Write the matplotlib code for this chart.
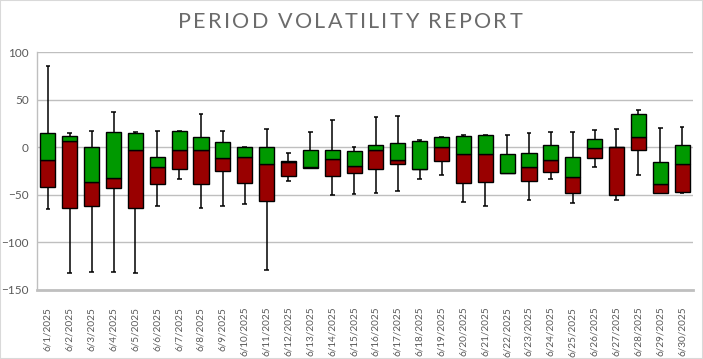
import matplotlib
matplotlib.use("Agg")
import matplotlib.pyplot as plt
import numpy as np
from matplotlib.patches import Rectangle

# values
dates = [f"6/{d}/2025" for d in range(1, 31)]
whisker_high = [85.4, 15.6, 17.7, 37.5, 16.7, 17.7, 17.7, 35.4, 17.7, 0.0,
                19.8, -6.2, 16.7, 29.2, 0.0, 32.3, 33.3, 7.3, 10.4, 12.5,
                12.5, 12.5, 14.6, 16.7, 16.7, 18.7, 19.8, 39.6, 20.8, 21.9]
box_top = [14.6, 11.5, 0.0, 16.7, 15.6, -10.4, 17.7, 10.4, 5.2, 0.0,
           0.0, -14.6, -3.1, -3.1, -4.2, 2.1, 4.2, 6.2, 10.4, 11.5,
           12.5, -7.3, -6.2, 2.1, -10.4, 8.3, 0.0, 35.4, -15.6, 2.1]
box_mid = [-13.5, 6.3, -36.1, -32.3, -3.1, -20.8, -3.1, -3.1, -11.5, -10.4,
           -17.7, -15.6, -20.8, -12.5, -19.8, -3.1, -13.5, -22.9, 0.0, -7.3,
           -7.3, -27.1, -20.8, -13.5, -31.2, -1.0, 0.0, 10.4, -38.5, -17.7]
box_bottom = [-41.7, -63.5, -61.5, -42.7, -63.5, -38.5, -22.9, -38.5, -25.0, -37.5,
              -56.6, -30.2, -21.9, -30.2, -27.1, -22.9, -17.7, -22.9, -14.6, -37.5,
              -36.5, -27.1, -35.4, -26.0, -47.9, -11.5, -50.0, -3.1, -47.9, -46.9]
whisker_low = [-64.6, -132.3, -131.3, -131.3, -132.3, -61.5, -33.3, -63.5, -61.5, -59.4,
               -129.2, -35.4, -21.9, -50.0, -49.0, -47.9, -45.8, -33.3, -29.2, -57.3,
               -61.5, -27.1, -55.2, -33.3, -58.3, -20.8, -55.2, -29.2, -47.9, -47.9]

GREEN = "#009900"
RED = "#990000"
GRID = "#BFBFBF"
TEXT = "#595959"

plt.rcParams["font.family"] = ["Lato", "DejaVu Sans"]

fig = plt.figure(figsize=(7.03, 3.59), dpi=100)
ax = fig.add_axes([37 / 703, 1 - 290 / 359, 656 / 703, (290 - 52.3) / 359])

x = np.arange(len(dates))
hi = np.array(whisker_high)
lo = np.array(whisker_low)
top = np.array(box_top)
mid = np.array(box_mid)
bot = np.array(box_bottom)

ax.vlines(x, lo, hi, color="black", lw=1.1, zorder=2)
ax.hlines(hi, x - 0.11, x + 0.11, color="black", lw=1.1, zorder=2)
ax.hlines(lo, x - 0.11, x + 0.11, color="black", lw=1.1, zorder=2)

ax.bar(x, mid - bot, bottom=bot, width=0.69, color=RED, edgecolor="black", lw=1.0, zorder=3)
ax.bar(x, top - mid, bottom=mid, width=0.69, color=GREEN, edgecolor="black", lw=1.0, zorder=3)

ax.set_xlim(-0.5, len(dates) - 0.5)
ax.set_ylim(-150, 100)
ax.set_yticks([-150, -100, -50, 0, 50, 100])
ax.set_xticks(x)
ax.set_xticklabels(dates, rotation=90, fontsize=7.2, color=TEXT)
ax.tick_params(axis="y", labelsize=8.5, colors=TEXT, length=0, pad=6)
ax.tick_params(axis="x", length=0, pad=12)
ax.grid(True, axis="y", color=GRID, lw=1.0, zorder=0)
ax.set_axisbelow(True)

for side in ["top", "right"]:
    ax.spines[side].set_visible(False)
ax.spines["left"].set_color(GRID)
ax.spines["left"].set_linewidth(1.0)
ax.spines["bottom"].set_color(GRID)
ax.spines["bottom"].set_linewidth(2.0)

# letter-spaced title, placed char by char across the reference's width (x 178..522)
title = "PERIOD VOLATILITY REPORT"
title_kw = dict(fontsize=15.5, color="#6B6B6B", va="center", ha="left")
renderer = fig.canvas.get_renderer()
widths = []
for ch in title:
    probe = fig.text(0, 0, ch if ch != " " else "I", **title_kw)
    widths.append(probe.get_window_extent(renderer).width * (0.9 if ch == " " else 1.0))
    probe.remove()
spacing = (344 - sum(widths)) / (len(title) - 1)
xpos = 178.0
for ch, cw in zip(title, widths):
    if ch != " ":
        fig.text(xpos / 703, 1 - 22 / 359, ch, **title_kw)
    xpos += cw + spacing

fig.patches.append(Rectangle((0, 0), 1, 1, transform=fig.transFigure, fill=False,
                             edgecolor="#D9D9D9", lw=1.5))

fig.savefig("out.png", dpi=100)
